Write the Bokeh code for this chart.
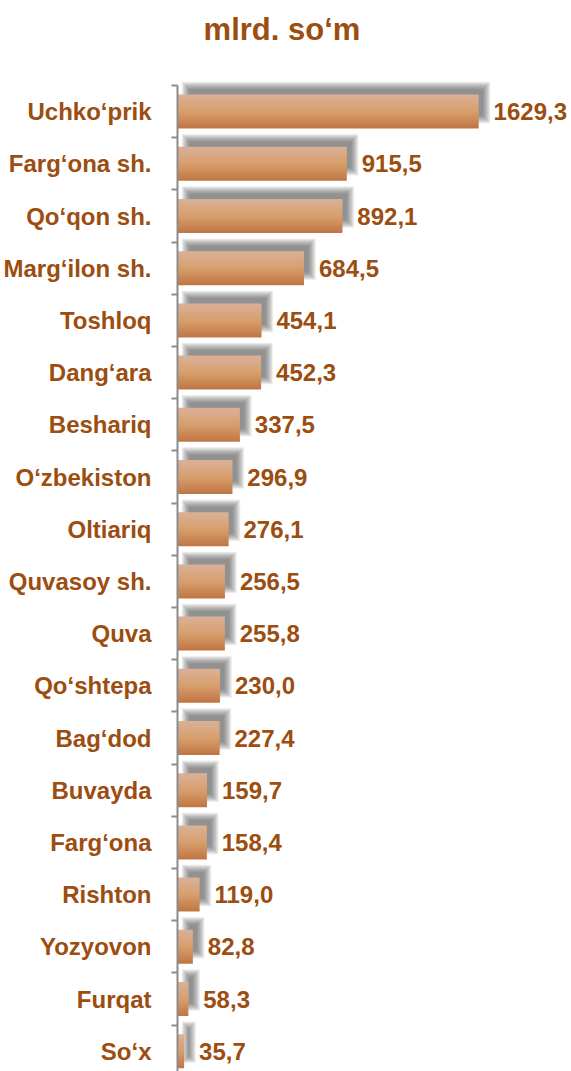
import numpy as np
from bokeh.plotting import figure
from bokeh.models import ColumnDataSource, Range1d, FixedTicker, Label
from bokeh.transform import dodge
from bokeh.core.properties import value
from bokeh.embed import file_html
from bokeh.resources import INLINE

# ---- data ----
regions = ["Uchko‘prik", "Farg‘ona sh.", "Qo‘qon sh.", "Marg‘ilon sh.", "Toshloq",
           "Dang‘ara", "Beshariq", "O‘zbekiston", "Oltiariq", "Quvasoy sh.",
           "Quva", "Qo‘shtepa", "Bag‘dod", "Buvayda", "Farg‘ona",
           "Rishton", "Yozyovon", "Furqat", "So‘x"]
values = [1629.3, 915.5, 892.1, 684.5, 454.1,
          452.3, 337.5, 296.9, 276.1, 256.5,
          255.8, 230.0, 227.4, 159.7, 158.4,
          119.0, 82.8, 58.3, 35.7]
title_text = "mlrd. so‘m"

# ---- style ----
TEXT = "#9C4D10"
FONT = "Liberation Sans"
AXIS = "#8c8c8c"

n = len(regions)
idx = list(range(n))
labels = [f"{v:.1f}".replace(".", ",") for v in values]
src = ColumnDataSource(dict(idx=idx, val=values, lab=labels))

W, H = 571, 1071
left_border = 177
top_px = 85            # y position of the first category boundary
px_per_unit = 0.1848
cat_px = 52.2
xmax = (W - left_border) / px_per_unit
y_top = -0.5 - top_px / cat_px
y_bottom = -0.5 + (H - top_px) / cat_px

p = figure(width=W, height=H, output_backend="svg", toolbar_location=None,
           x_range=Range1d(0, xmax), y_range=Range1d(y_bottom, y_top),
           min_border_left=left_border, min_border_top=0,
           min_border_bottom=0, min_border_right=0,
           x_axis_location=None)
p.outline_line_color = None
p.xgrid.visible = False
p.ygrid.visible = False
p.background_fill_color = "white"
p.border_fill_color = "white"

# ---- shadow (blurred grey, offset up/right) ----
sx = 8 / px_per_unit
sy = -9 / cat_px
bh = 34 / cat_px
steps = np.arange(4.0, -4.01, -0.5)
a = 1 - 0.42 ** (1 / len(steps))
for e in steps:
    ex = e / px_per_unit
    p.hbar(y=dodge("idx", sy), height=bh + 2 * e / cat_px,
           left=sx - ex, right=dodge("val", sx + ex), source=src,
           fill_color="#555555", fill_alpha=a, line_color=None)

# ---- gradient bars ----
stops_t = [0.0, 0.5, 1.0]
stops_c = [(0xDA, 0xB1, 0x98), (0xD7, 0x9F, 0x6D), (0xC0, 0x75, 0x43)]

def interp(t):
    r = np.interp(t, stops_t, [c[0] for c in stops_c])
    g = np.interp(t, stops_t, [c[1] for c in stops_c])
    b = np.interp(t, stops_t, [c[2] for c in stops_c])
    return "#%02x%02x%02x" % (int(round(r)), int(round(g)), int(round(b)))

N = 17
sl = bh / N
ov = 1.0 / cat_px
for j in range(N):
    t = (j + 0.5) / N
    top = -bh / 2 + j * sl
    bot = top + sl + (ov if j < N - 1 else 0)
    p.hbar(y=dodge("idx", (top + bot) / 2), height=bot - top, left=0, right="val",
           source=src, fill_color=interp(t), line_color=None)

# ---- value labels ----
p.text(x="val", y="idx", text="lab", source=src, x_offset=15,
       text_align="left", text_baseline="middle",
       text_font=value(FONT), text_font_size="24px", text_font_style="bold",
       text_color=TEXT)

# ---- y axis ----
ax = p.yaxis[0]
ax.bounds = (-0.5, y_bottom)
ax.ticker = FixedTicker(ticks=idx, minor_ticks=[i - 0.5 for i in range(n + 1)])
ax.major_label_overrides = {i: r for i, r in enumerate(regions)}
ax.major_tick_out = 0
ax.major_tick_in = 0
ax.minor_tick_out = 6
ax.minor_tick_in = 0
ax.minor_tick_line_color = AXIS
ax.minor_tick_line_width = 2
ax.axis_line_color = AXIS
ax.axis_line_width = 2
ax.major_label_standoff = 20
ax.major_label_text_font = FONT
ax.major_label_text_font_size = "24px"
ax.major_label_text_font_style = "bold"
ax.major_label_text_color = TEXT

# ---- title ----
title_x = (281.5 - left_border) / px_per_unit
title_y = -0.5 - (top_px - 29.0) / cat_px
p.add_layout(Label(x=title_x, y=title_y, text=title_text, text_align="center",
                   text_baseline="middle", text_font=FONT, text_font_size="31px",
                   text_font_style="bold", text_color=TEXT))

open("out.html", "w").write(file_html(p, INLINE))
